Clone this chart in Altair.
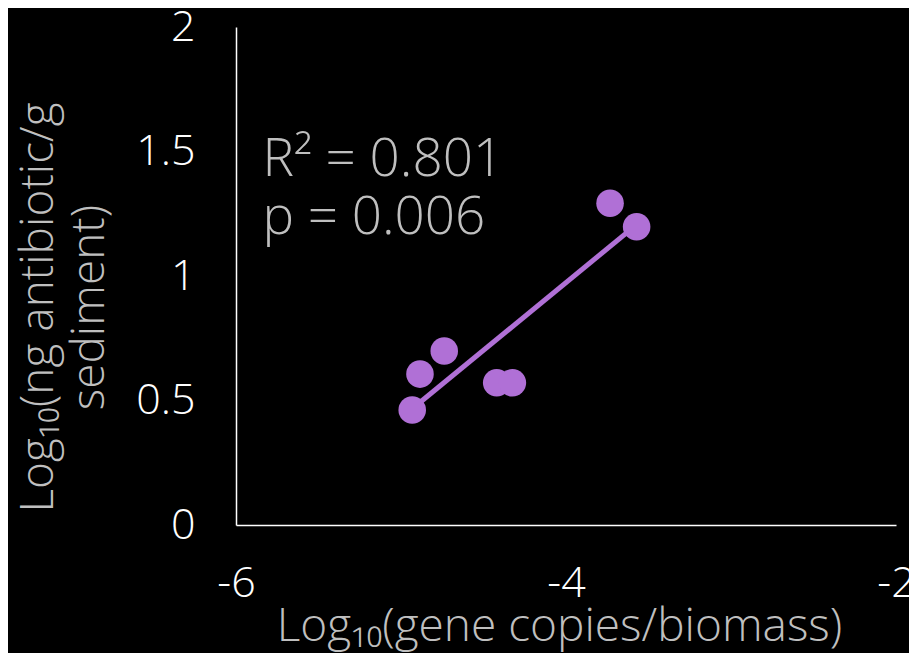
import altair as alt
import pandas as pd

# data
gene_copies = [-4.932, -4.885, -4.738, -4.420, -4.325, -3.733, -3.572]
antibiotic = [0.462, 0.606, 0.699, 0.571, 0.571, 1.292, 1.198]

x_ticks = [-6, -4, -2]
y_ticks = [0, 0.5, 1, 1.5, 2]

annot_text = ["R² = 0.801", "p = 0.006"]
annot_x = [-5.84]
annot_y = [1.466]

PURPLE = "#B070D6"
GREY = "#BFBFBF"
FONT = "Open Sans"

df = pd.DataFrame({"x": gene_copies, "y": antibiotic})
ann = pd.DataFrame({"x": annot_x, "y": annot_y, "t": [annot_text]})

xscale = alt.Scale(domain=[-6, -2], nice=False, zero=False)
yscale = alt.Scale(domain=[0, 2], nice=False, zero=False)

xaxis = alt.Axis(
    values=x_ticks, grid=False, ticks=False, domainColor="#FFFFFF", domainWidth=1.5,
    labelColor="#FFFFFF", labelFont=FONT, labelFontSize=43, labelFontWeight=300,
    labelPadding=37, labelExpr="datum.value + ''", labelFlush=False,
    title="Log₁₀(gene copies/biomass)", titleColor=GREY, titleFont=FONT,
    titleFontSize=46, titleFontWeight=300, titleBaseline="middle",
    titleY=101, titleX=323,
)
yaxis = alt.Axis(
    values=y_ticks, grid=False, ticks=False, domainColor="#FFFFFF", domainWidth=1.5,
    labelColor="#FFFFFF", labelFont=FONT, labelFontSize=43, labelFontWeight=300,
    labelPadding=41, labelExpr="datum.value + ''", labelFlush=False,
    title=["Log₁₀(ng antibiotic/g", "sediment)"], titleColor=GREY, titleFont=FONT,
    titleFontSize=46, titleFontWeight=300, titleLineHeight=51,
    titleAngle=270, titleAlign="center", titleBaseline="middle",
    titleX=-198, titleY=280,
)

base = alt.Chart(df)

points = base.mark_circle(size=760, opacity=1, color=PURPLE).encode(
    x=alt.X("x:Q", scale=xscale, axis=xaxis),
    y=alt.Y("y:Q", scale=yscale, axis=yaxis),
)

trend = base.transform_regression("x", "y").mark_line(
    color=PURPLE, strokeWidth=5
).encode(x=alt.X("x:Q", scale=xscale), y=alt.Y("y:Q", scale=yscale))

text = alt.Chart(ann).mark_text(
    align="left", baseline="middle", font=FONT, fontSize=53, fontWeight=300,
    color=GREY, lineHeight=58,
).encode(x=alt.X("x:Q", scale=xscale), y=alt.Y("y:Q", scale=yscale), text="t")

chart = (
    alt.layer(trend, points, text)
    .properties(
        width=660, height=498,
        background="#000000",
        padding={"left": 228, "top": 19, "right": 13, "bottom": 140},
        autosize=alt.AutoSizeParams(type="none"),
    )
    .configure_view(stroke=None)
)

chart.save("out.html", embed_options={"renderer": "svg", "actions": False})
